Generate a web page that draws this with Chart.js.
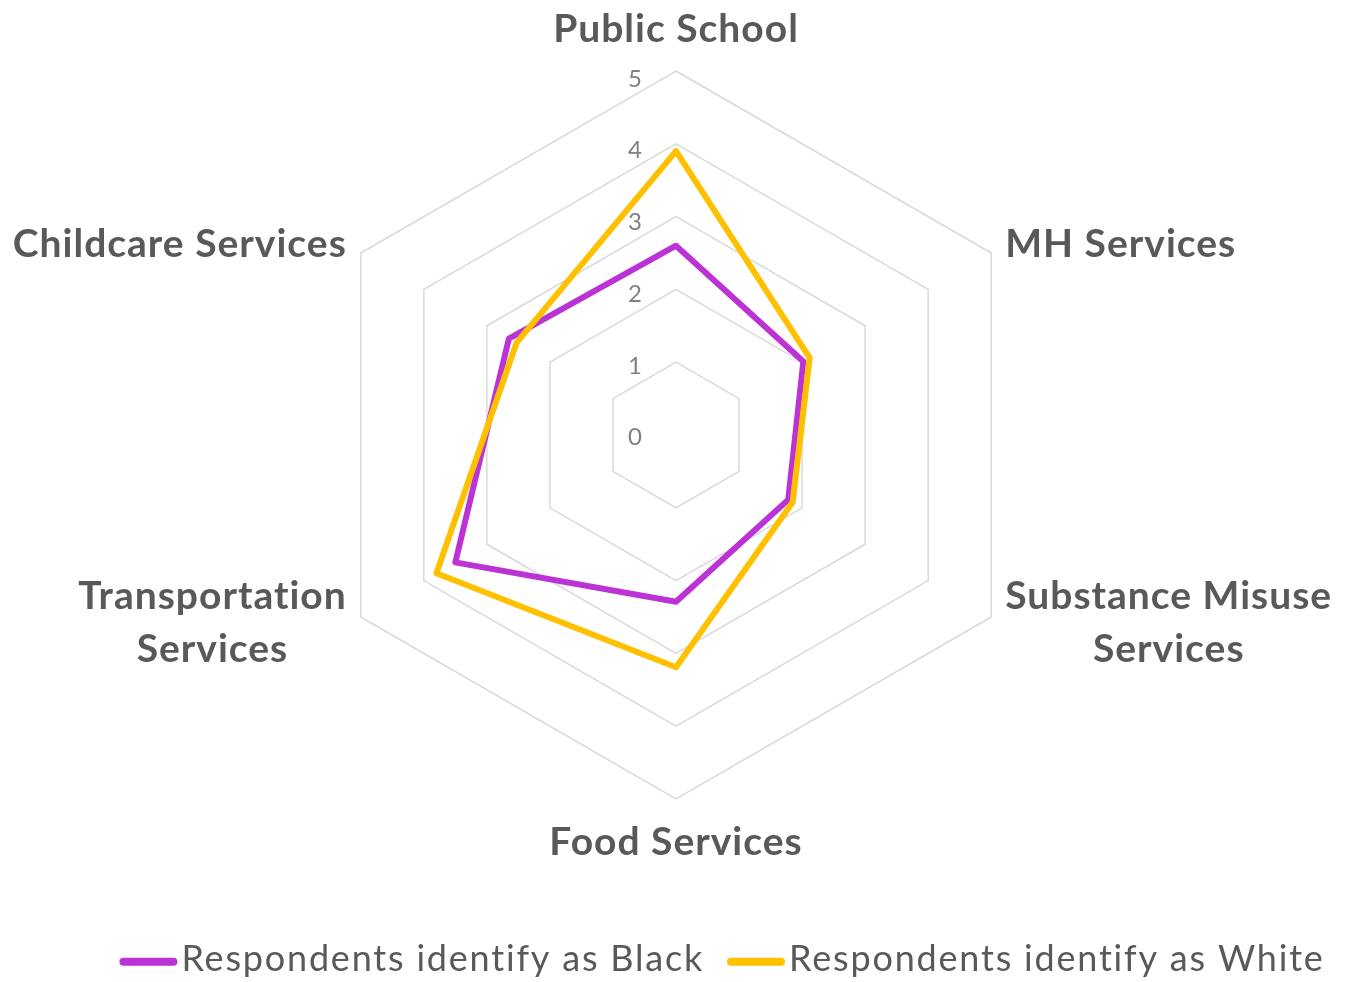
<!DOCTYPE html>
<html>
<head>
<meta charset="utf-8">
<script src="https://cdn.jsdelivr.net/npm/chart.js@4.4.1/dist/chart.umd.min.js"></script>
<style>
  html, body { margin: 0; padding: 0; background: #ffffff; }
  #wrap { width: 1363px; height: 982px; position: relative; }
</style>
</head>
<body>
<div id="wrap"><canvas id="c"></canvas></div>
<script>
// ---- data ----
const categories = [
  'Public School',
  'MH Services',
  ['Substance Misuse', 'Services'],
  'Food Services',
  ['Transportation', 'Services'],
  'Childcare Services'
];
const seriesNames = ['Respondents identify as Black', 'Respondents identify as White'];
const blackValues = [2.6, 2.02, 1.78, 2.29, 3.5, 2.65];
const whiteValues = [3.9, 2.12, 1.85, 3.19, 3.8, 2.53];
const tickValues = [0, 1, 2, 3, 4, 5];

// ---- style ----
const PURPLE = '#BB33D5';
const GOLD = '#FFC000';
const LABEL_COLOR = '#595959';
const TICK_COLOR = '#808080';
const GRID_COLOR = '#D9D9D9';
const FONT = 'Lato, "Open Sans", sans-serif';

const labelsPlugin = {
  id: 'excelLabels',
  afterDraw(chart) {
    const s = chart.scales.r;
    const ctx = chart.ctx;
    ctx.save();

    // tick labels, left of the vertical axis
    ctx.font = '24px ' + FONT;
    ctx.letterSpacing = '0px';
    ctx.fillStyle = TICK_COLOR;
    ctx.textAlign = 'center';
    ctx.textBaseline = 'middle';
    s.ticks.forEach(t => {
      const d = s.getDistanceFromCenterForValue(t.value);
      ctx.fillText(String(t.label), s.xCenter - 41, s.yCenter - d + 2.5 + 1.1 * t.value);
    });

    // category labels
    ctx.font = 'bold 39px ' + FONT;
    ctx.letterSpacing = '1px';
    ctx.fillStyle = LABEL_COLOR;
    ctx.textBaseline = 'alphabetic';
    ctx.textAlign = 'center';
    const lineH = 53;
    chart.data.labels.forEach((lab, i) => {
      const lines = Array.isArray(lab) ? lab : [lab];
      const p = s.getPointPosition(i, s.drawingArea);
      const w = Math.max(...lines.map(l => ctx.measureText(l).width));
      const dx = p.x - s.xCenter;
      const dy = p.y - s.yCenter;
      let cx, base;
      if (Math.abs(dx) < 1) {
        cx = p.x;
        base = dy < 0 ? p.y - 29 : p.y + 56;
      } else {
        cx = dx > 0 ? p.x + 14 + w / 2 : p.x - 14 - w / 2;
        if (lines.length === 1) base = p.y + 4;
        else base = p.y - 8;
      }
      lines.forEach((l, k) => ctx.fillText(l, cx, base + k * lineH));
    });

    // legend
    ctx.font = '36px ' + FONT;
    ctx.letterSpacing = '1.8px';
    ctx.textAlign = 'left';
    const lineLen = 58, gapText = 4, itemGap = 23, legendCenter = 722, legendBase = 971, legendLineY = 961.7;
    const items = chart.data.datasets.slice().sort((a, b) => a.legendIndex - b.legendIndex);
    const widths = items.map(ds => lineLen + gapText + ctx.measureText(ds.label).width);
    const total = widths.reduce((a, b) => a + b, 0) + itemGap * (items.length - 1);
    let x = legendCenter - total / 2;
    items.forEach((ds, k) => {
      ctx.strokeStyle = ds.borderColor;
      ctx.lineWidth = 8;
      ctx.lineCap = 'round';
      ctx.beginPath();
      ctx.moveTo(x + 4, legendLineY);
      ctx.lineTo(x + lineLen - 4, legendLineY);
      ctx.stroke();
      ctx.fillStyle = LABEL_COLOR;
      ctx.fillText(ds.label, x + lineLen + gapText, legendBase);
      x += widths[k] + itemGap;
    });
    ctx.restore();
  }
};

new Chart(document.getElementById('c'), {
  type: 'radar',
  data: {
    labels: categories,
    datasets: [
      {
        label: seriesNames[0],
        data: blackValues,
        borderColor: PURPLE,
        backgroundColor: 'transparent',
        borderWidth: 6,
        borderJoinStyle: 'round',
        fill: false,
        pointRadius: 0,
        pointHoverRadius: 0,
        order: 1,
        legendIndex: 0
      },
      {
        label: seriesNames[1],
        data: whiteValues,
        borderColor: GOLD,
        backgroundColor: 'transparent',
        borderWidth: 6,
        borderJoinStyle: 'round',
        fill: false,
        pointRadius: 0,
        pointHoverRadius: 0,
        order: 0,
        legendIndex: 1
      }
    ]
  },
  options: {
    responsive: true,
    maintainAspectRatio: false,
    animation: false,
    layout: { padding: { top: 71, bottom: 182, left: 0, right: 11 } },
    plugins: {
      legend: { display: false },
      tooltip: { enabled: false }
    },
    elements: { line: { tension: 0 } },
    scales: {
      r: {
        min: tickValues[0],
        max: tickValues[tickValues.length - 1],
        ticks: { stepSize: 1, display: false },
        pointLabels: { display: false },
        angleLines: { display: false },
        grid: { color: GRID_COLOR, lineWidth: 1.5, circular: false }
      }
    }
  },
  plugins: [labelsPlugin]
});
</script>
</body>
</html>
